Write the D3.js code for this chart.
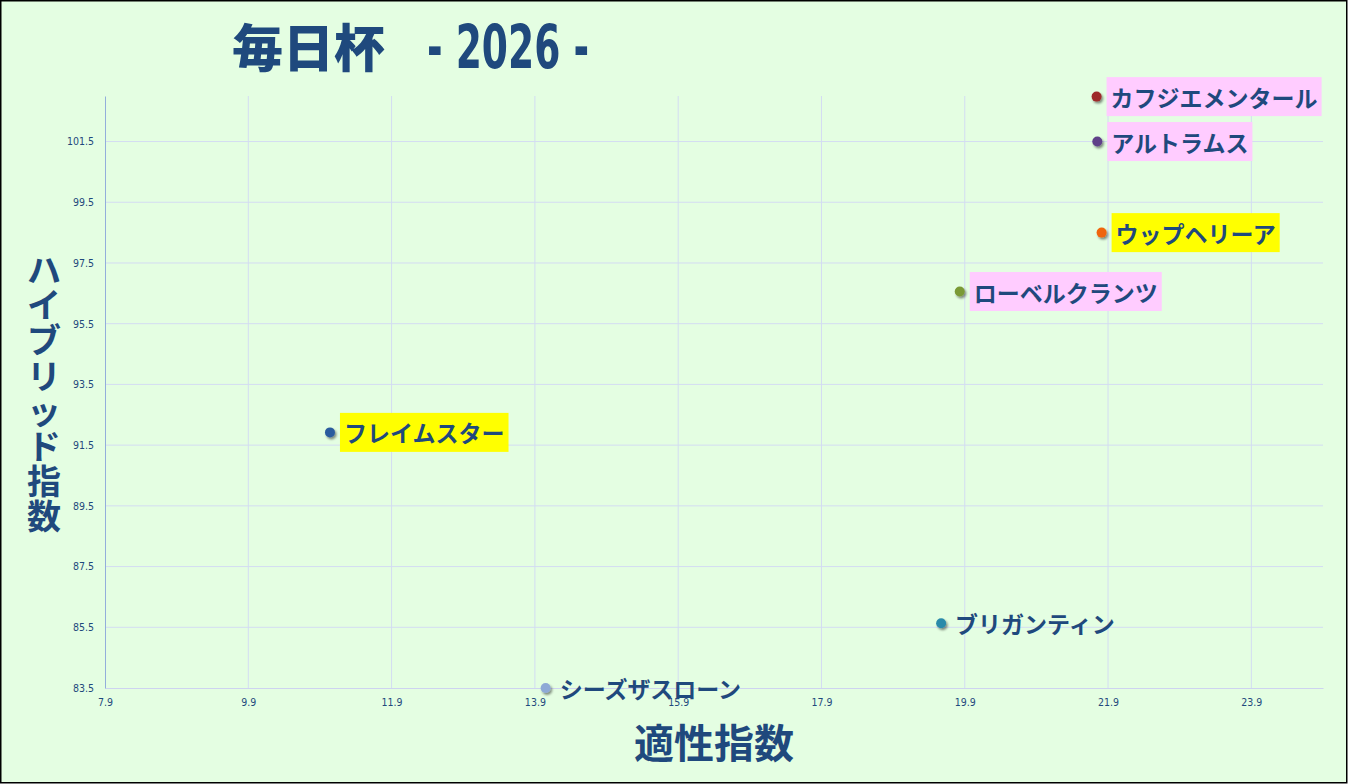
<!DOCTYPE html>
<html>
<head>
<meta charset="utf-8">
<script src="https://cdn.jsdelivr.net/npm/d3@7"></script>
<style>
  body { margin: 0; background: #fff; }
  svg { display: block; }
</style>
</head>
<body>
<svg id="chart" width="1348" height="784"></svg>
<script>
// データ
const horses = ['カフジエメンタール', 'アルトラムス', 'ウップヘリーア', 'ローベルクランツ', 'フレイムスター', 'ブリガンティン', 'シーズザスローン']
const tekiseiIndex = [21.74, 21.75, 21.81, 19.83, 11.04, 19.57, 14.05]
const hybridIndex = [102.98, 101.5, 98.5, 96.56, 91.92, 85.63, 83.5]
const xTicks = [7.9, 9.9, 11.9, 13.9, 15.9, 17.9, 19.9, 21.9, 23.9]
const yTicks = [83.5, 85.5, 87.5, 89.5, 91.5, 93.5, 95.5, 97.5, 99.5, 101.5]
const xDomain = [7.9, 24.9]
const yDomain = [83.5, 103]

// 見た目
const markColors = ['#9e2a2b', '#5e4189', '#f0650c', '#7a9a35', '#2b5b9e', '#2a8aaa', '#8ea9d6']
const labelFills = ['#ffccff', '#ffccff', '#ffff00', '#ffccff', '#ffff00', null, null]
const navy = '#1f497d'
const jp = '"Noto Sans CJK JP", "Noto Sans", sans-serif'

const svg = d3.select('#chart')
const width = 1348
const height = 784
const margin = { left: 105, right: 25, top: 96, bottom: 96 }

svg.append('rect')
	.attr('x', 0.75).attr('y', 0.75)
	.attr('width', width - 2).attr('height', height - 2)
	.attr('fill', '#e4fee2')
	.attr('stroke', '#000')
	.attr('stroke-width', 1.5)

const defs = svg.append('defs')
const shadow = defs.append('filter').attr('id', 'shadow')
	.attr('x', '-50%').attr('y', '-50%').attr('width', '200%').attr('height', '200%')
shadow.append('feDropShadow')
	.attr('dx', 1.5).attr('dy', 2).attr('stdDeviation', 1.2)
	.attr('flood-color', '#000').attr('flood-opacity', 0.45)

const xScale = d3.scaleLinear().domain(xDomain).range([margin.left, width - margin.right])
const yScale = d3.scaleLinear().domain(yDomain).range([height - margin.bottom, margin.top])

// グリッド
svg.append('g').selectAll('line.v')
	.data(xTicks.slice(1))
	.join('line')
	.attr('x1', d => xScale(d)).attr('x2', d => xScale(d))
	.attr('y1', margin.top).attr('y2', height - margin.bottom)
	.attr('stroke', '#d3dcf2').attr('stroke-width', 1)

svg.append('g').selectAll('line.h')
	.data(yTicks.slice(1))
	.join('line')
	.attr('x1', margin.left).attr('x2', width - margin.right)
	.attr('y1', d => yScale(d)).attr('y2', d => yScale(d))
	.attr('stroke', '#d3dcf2').attr('stroke-width', 1)

// 軸
const xAxis = d3.axisBottom(xScale).tickValues(xTicks).tickFormat(d3.format('.1f')).tickSize(0).tickPadding(11)
const yAxis = d3.axisLeft(yScale).tickValues(yTicks).tickFormat(d3.format('.1f')).tickSize(0).tickPadding(11)

const gx = svg.append('g')
	.attr('transform', `translate(0, ${height - margin.bottom})`)
	.call(xAxis)
gx.select('.domain').attr('stroke', '#cdd3f0')

const gy = svg.append('g')
	.attr('transform', `translate(${margin.left}, 0)`)
	.call(yAxis)
gy.select('.domain').attr('stroke', '#93aedb')

svg.selectAll('.tick text')
	.attr('fill', navy)
	.style('font-family', '"DejaVu Sans Condensed", "Liberation Sans Narrow", sans-serif')
	.style('font-size', '10.5px')

// 点
const points = horses.map((name, i) => ({ name, x: tekiseiIndex[i], y: hybridIndex[i], i }))

svg.append('g').selectAll('circle')
	.data(points)
	.join('circle')
	.attr('cx', d => xScale(d.x))
	.attr('cy', d => yScale(d.y))
	.attr('r', 5)
	.attr('fill', d => markColors[d.i])
	.attr('filter', 'url(#shadow)')

// ラベル
const labels = svg.append('g').selectAll('g')
	.data(points)
	.join('g')
	.attr('transform', d => `translate(${xScale(d.x) + 10}, ${yScale(d.y)})`)

labels.append('rect')
	.attr('class', 'label-bg')
	.attr('y', -19.5)
	.attr('height', 39)
	.attr('fill', d => labelFills[d.i] || 'none')

labels.append('text')
	.attr('x', 4)
	.attr('dominant-baseline', 'central')
	.attr('fill', navy)
	.style('font-family', jp)
	.style('font-weight', 700)
	.style('font-size', '23px')
	.text(d => d.name)

labels.each(function () {
	const g = d3.select(this)
	const w = g.select('text').node().getComputedTextLength()
	g.select('rect').attr('width', w + 8)
})

// タイトル
svg.append('text')
	.attr('x', 232)
	.attr('y', 45)
	.attr('dominant-baseline', 'central')
	.attr('fill', navy)
	.style('font-family', jp)
	.style('font-weight', 900)
	.style('font-size', '51px')
	.text('毎日杯')

svg.append('text')
	.attr('x', 427)
	.attr('y', 47)
	.attr('dominant-baseline', 'central')
	.attr('textLength', 162)
	.attr('lengthAdjust', 'spacingAndGlyphs')
	.attr('fill', navy)
	.style('font-family', '"DejaVu Sans Condensed", "DejaVu Sans", sans-serif')
	.style('font-weight', 700)
	.style('font-size', '60px')
	.text('- 2026 -')

// 軸タイトル
svg.append('text')
	.attr('x', 714)
	.attr('y', 741)
	.attr('text-anchor', 'middle')
	.attr('dominant-baseline', 'central')
	.attr('fill', navy)
	.style('font-family', jp)
	.style('font-weight', 700)
	.style('font-size', '40px')
	.text('適性指数')

const yTitle = svg.append('text')
	.attr('text-anchor', 'middle')
	.attr('dominant-baseline', 'central')
	.attr('fill', navy)
	.style('font-family', jp)
	.style('font-weight', 700)
	.style('font-size', '34px')

Array.from('ハイブリッド指数').forEach((ch, i) => {
	yTitle.append('tspan')
		.attr('x', 44)
		.attr('y', 268 + i * 35.2)
		.text(ch)
})
</script>
</body>
</html>
